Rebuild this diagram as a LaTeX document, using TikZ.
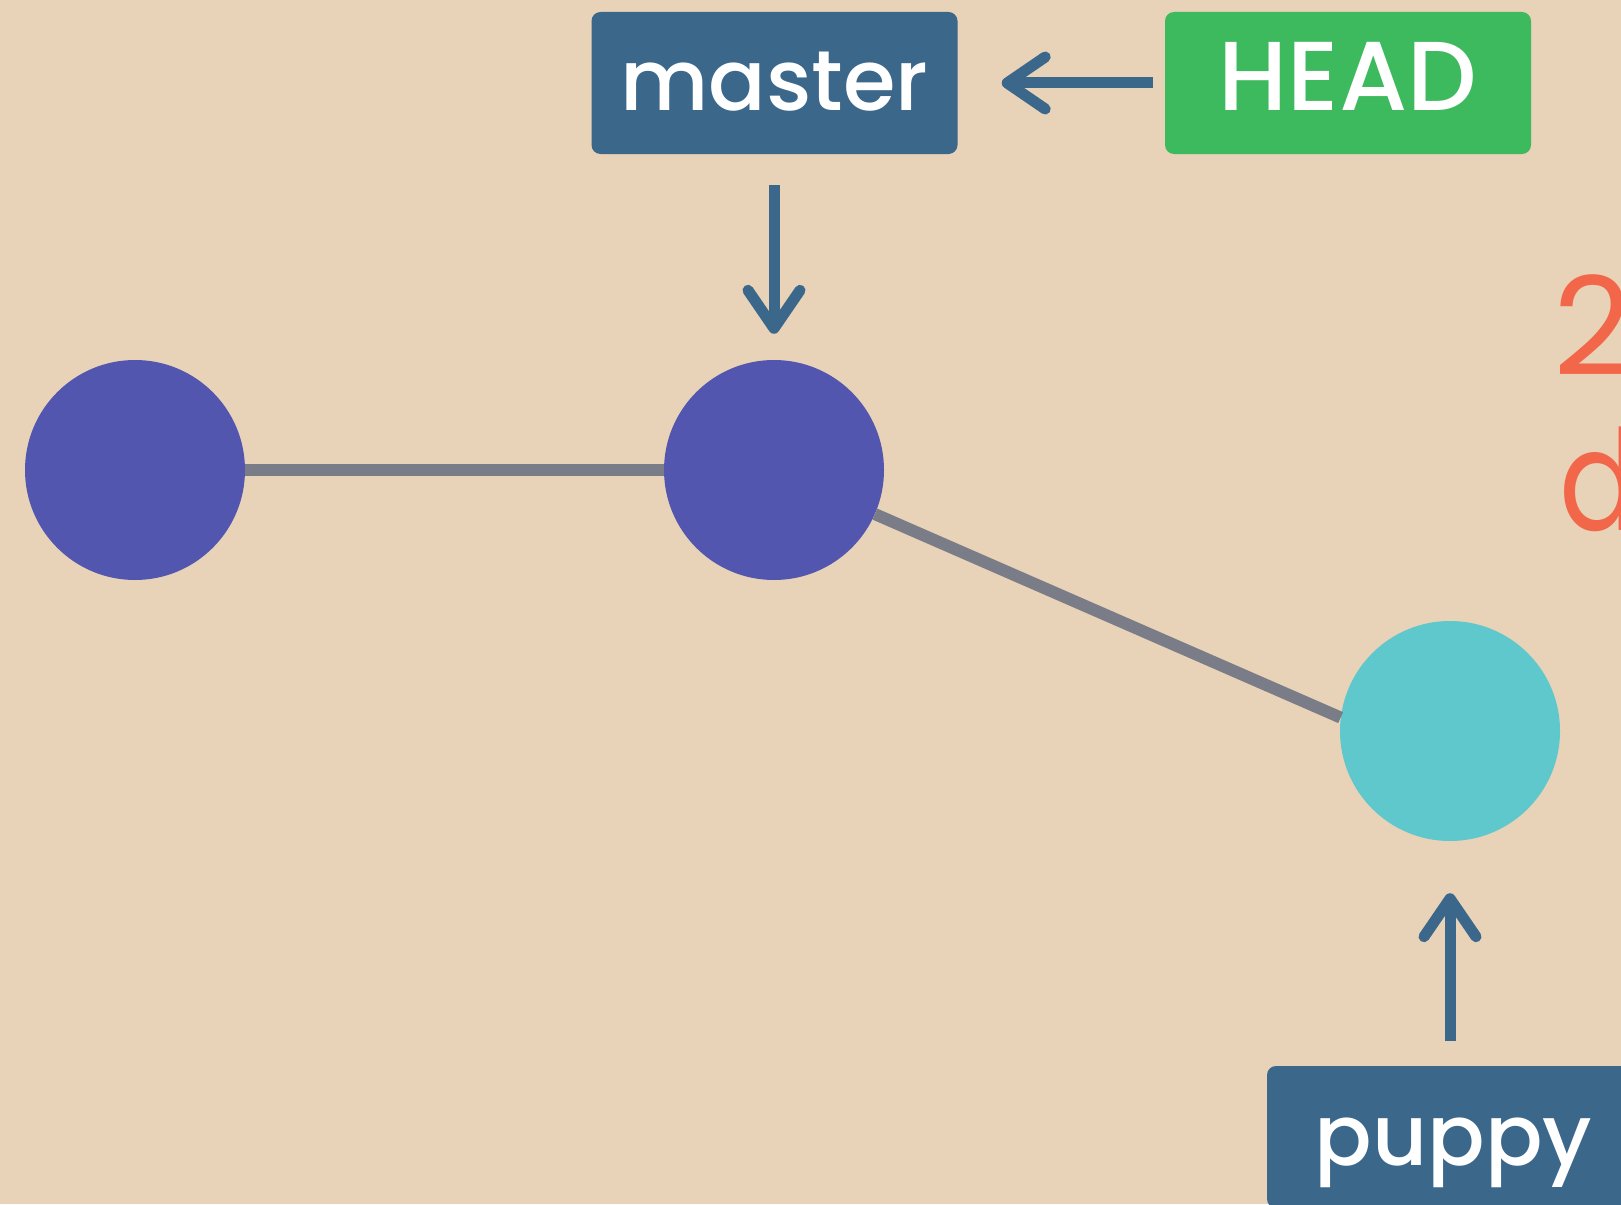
\documentclass[tikz,border=0pt]{standalone}
\usepackage{fontspec}
\setmainfont{Poppins}
\newfontfamily\popmed{Poppins}[UprightFont=* Medium]
\usetikzlibrary{arrows.meta}
\definecolor{bg}{HTML}{E8D2B8}
\definecolor{refblue}{HTML}{3B678B}
\definecolor{headgreen}{HTML}{3DB95E}
\definecolor{commitpurple}{HTML}{5356AE}
\definecolor{commitcyan}{HTML}{5EC8CC}
\definecolor{edgegray}{HTML}{7A7D87}
\definecolor{noteorange}{HTML}{F26649}
\tikzset{
  commit/.style={circle, minimum size=220pt, inner sep=0pt, draw=none},
  refbox/.style={rectangle, rounded corners=9pt, minimum height=142pt, minimum width=366pt, inner sep=0pt,
    text=white, font=\popmed\fontsize{85}{85}\selectfont, text height=56pt, text depth=0pt},
  history/.style={draw=edgegray, line width=12pt},
  pointer/.style={draw=refblue, line width=11pt,
    -{Straight Barb[length=38pt,width=52pt,round]}},
  note/.style={inner sep=0pt, anchor=base west, text=noteorange},
}
\begin{document}
\begin{tikzpicture}[x=1pt,y=-1pt]
\useasboundingbox (0,0) rectangle (1621,1204);
\fill[bg] (0,0) rectangle (1621,1204);
\clip (0,0) rectangle (1621,1204);
% commits
\node[commit, fill=commitpurple] (c1) at (135,470) {};
\node[commit, fill=commitpurple] (c2) at (774,470) {};
\node[commit, fill=commitcyan] (c3) at (1450,731) {};
\draw[history] (c1) -- (c2);
\draw[history] (c2) -- (c3.173);
% refs
\node[refbox, fill=refblue] (master) at (774.5,83) {master};
\node[refbox, fill=headgreen, font=\popmed\fontsize{98}{98}\selectfont] (head) at (1348,83) {HEAD};
\node[refbox, fill=refblue, minimum width=373pt] (puppy) at (1453.5,1137) {puppy};
% pointers
\draw[pointer, shorten <=12pt, shorten >=44pt] (head.west) -- (master.east);
\draw[pointer, shorten <=31pt, shorten >=26pt] (master.south -| c2) -- (c2.north);
\draw[pointer, shorten <=25pt, shorten >=52pt] (puppy.north -| c3) -- (c3.south);
% partially visible note
\node[note, font=\fontsize{137}{137}\selectfont] (two) at (1553,375) {2};
\node[note, font=\fontsize{140}{140}\selectfont] (dee) at (1559,530) {\scalebox{0.84}[1]{d}};
\end{tikzpicture}
\end{document}
